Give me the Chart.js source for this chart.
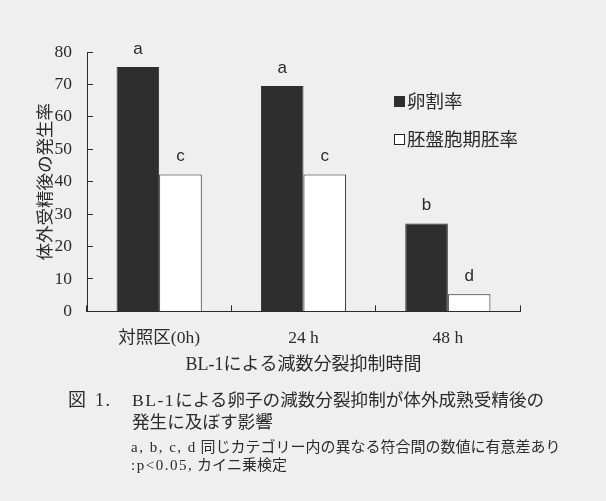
<!DOCTYPE html>
<html lang="ja">
<head>
<meta charset="utf-8">
<title>BL-1による減数分裂抑制時間</title>
<script src="https://cdn.jsdelivr.net/npm/chart.js@4/dist/chart.umd.min.js"></script>
<style>
  body { margin: 0; background: #efefef; }
  .wrap { position: relative; width: 606px; height: 501px; color: #2b2b2b;
          font-family: 'Liberation Serif', 'Noto Sans CJK JP', serif; }
  #chart { position: absolute; left: 0; top: 0; }
  .txt { position: absolute; white-space: nowrap; }
  .lat { letter-spacing: 1.5px; }
  .legend-item { position: absolute; white-space: nowrap; font-size: 18.5px; line-height: 22px; }
  .legend-item span.box { display: inline-block; width: 11px; height: 11px; margin-right: 2px;
                          vertical-align: 1px; box-sizing: border-box; }
</style>
</head>
<body>
<div class="wrap">
  <canvas id="chart" width="606" height="501"></canvas>
  <div id="legend"></div>
  <div class="txt" style="left:68px; top:389px; font-size:18px; line-height:22px;">図&nbsp; <span class="lat">1.</span></div>
  <div class="txt" style="left:132px; top:389px; font-size:17.6px; line-height:22px;"><span class="lat">BL-1</span>による卵子の減数分裂抑制が体外成熟受精後の</div>
  <div class="txt" style="left:132px; top:411px; font-size:17.6px; line-height:22px;">発生に及ぼす影響</div>
  <div class="txt" style="left:131px; top:438px; font-size:15px; line-height:18px;"><span class="lat">a, b, c, d</span> 同じカテゴリー内の異なる符合間の数値に有意差あり</div>
  <div class="txt" style="left:131px; top:456px; font-size:15px; line-height:18px;"><span class="lat">:p&lt;0.05,</span> カイニ乗検定</div>
</div>
<script>
const categories = ['対照区(0h)', '24 h', '48 h'];
const cleavageRate = [75.4, 69.5, 27.1];
const blastocystRate = [42.2, 42.2, 5.3];
const cleavageMarks = ['a', 'a', 'b'];
const blastocystMarks = ['c', 'c', 'd'];
const yTicks = [0, 10, 20, 30, 40, 50, 60, 70, 80];

const ink = '#2b2b2b';

// letters above each bar
const markPlugin = {
  id: 'marks',
  afterDatasetsDraw(chart) {
    const ctx = chart.ctx;
    const marks = [cleavageMarks, blastocystMarks];
    ctx.save();
    ctx.fillStyle = ink;
    ctx.font = '17px "Liberation Sans", Arial, sans-serif';
    ctx.textAlign = 'center';
    ctx.textBaseline = 'middle';
    chart.data.datasets.forEach((ds, i) => {
      chart.getDatasetMeta(i).data.forEach((bar, j) => {
        ctx.fillText(marks[i][j], bar.x, bar.y - 18);
      });
    });
    ctx.restore();
  }
};

// legend built in html, placed inside the plot
const htmlLegend = {
  id: 'htmlLegend',
  afterUpdate(chart) {
    const box = document.getElementById('legend');
    box.innerHTML = '';
    const items = chart.options.plugins.legend.labels.generateLabels(chart);
    items.forEach((item, i) => {
      const div = document.createElement('div');
      div.className = 'legend-item';
      div.style.left = '394px';
      div.style.top = (91 + i * 38) + 'px';
      const sq = document.createElement('span');
      sq.className = 'box';
      sq.style.background = item.fillStyle;
      sq.style.border = '1px solid ' + item.strokeStyle;
      div.appendChild(sq);
      div.appendChild(document.createTextNode(item.text));
      box.appendChild(div);
    });
  }
};

new Chart(document.getElementById('chart'), {
  type: 'bar',
  data: {
    labels: categories,
    datasets: [
      {
        label: '卵割率',
        data: cleavageRate,
        backgroundColor: '#2e2e2e',
        borderColor: '#2e2e2e',
        borderWidth: 1
      },
      {
        label: '胚盤胞期胚率',
        data: blastocystRate,
        backgroundColor: '#ffffff',
        borderColor: '#222222',
        borderWidth: 1
      }
    ]
  },
  options: {
    responsive: false,
    animation: false,
    categoryPercentage: 0.59,
    barPercentage: 1.0,
    layout: { padding: { left: 34, top: 52, right: 86, bottom: 125 } },
    plugins: {
      legend: { display: false },
      tooltip: { enabled: false }
    },
    scales: {
      x: {
        grid: { drawOnChartArea: false, drawTicks: true, tickLength: -6, color: ink },
        border: { color: ink, width: 1 },
        ticks: { color: ink, padding: 23, font: { family: "'Liberation Serif', 'Noto Sans CJK JP'", size: 17.5 } },
        title: {
          display: true,
          text: 'BL-1による減数分裂抑制時間',
          color: ink,
          padding: { top: -18, bottom: 0 },
          font: { family: "'Liberation Serif', 'Noto Sans CJK JP'", size: 18 }
        }
      },
      y: {
        min: 0,
        max: 80,
        afterFit(scale) { scale.width = 53; },
        afterBuildTicks(scale) { scale.ticks = yTicks.map(v => ({ value: v })); },
        grid: { drawOnChartArea: false, drawTicks: true, tickLength: -6, color: ink },
        border: { color: ink, width: 1 },
        ticks: { color: ink, padding: 21, font: { family: "'Liberation Serif', serif", size: 17.5 } },
        title: {
          display: true,
          text: '体外受精後の発生率',
          color: ink,
          padding: 0,
          font: { family: "'Noto Sans CJK JP'", size: 17.5 }
        }
      }
    }
  },
  plugins: [markPlugin, htmlLegend]
});
</script>
</body>
</html>
